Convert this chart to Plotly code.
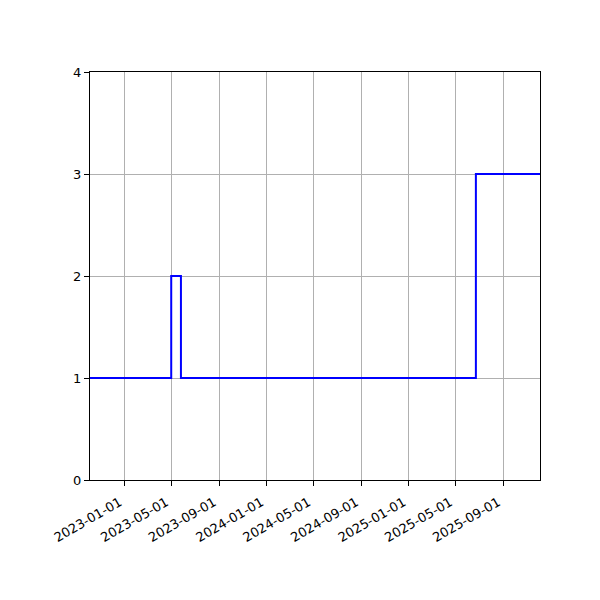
import plotly.graph_objects as go

dates  = ['2022-10-04', '2023-05-01', '2023-05-26', '2025-06-23', '2025-12-05']
counts = [1, 2, 1, 3, 3]
tick_dates = ['2023-01-01', '2023-05-01', '2023-09-01', '2024-01-01', '2024-05-01',
              '2024-09-01', '2025-01-01', '2025-05-01', '2025-09-01']
y_ticks = [0, 1, 2, 3, 4]

fig = go.Figure()
fig.add_trace(go.Scatter(x=dates, y=counts, mode='lines',
                         line=dict(color='blue', width=2, shape='hv'),
                         showlegend=False))

axis_style = dict(showline=True, linecolor='black', linewidth=1, mirror=True,
                  ticks='outside', ticklen=5, tickcolor='black',
                  showgrid=True, gridcolor='#b0b0b0', gridwidth=1,
                  zeroline=False, automargin=False,
                  tickfont=dict(size=13, color='black'))

# page body adds ~8px offset, so margins are shifted to compensate
fig.update_layout(
    width=600, height=600,
    margin=dict(l=82, r=68, t=64, b=128),
    plot_bgcolor='white', paper_bgcolor='white',
    font=dict(family='DejaVu Sans', size=13, color='black'),
    xaxis=dict(range=['2022-10-04', '2025-12-05'], tickvals=tick_dates,
               ticktext=tick_dates, tickangle=-30,
               ticklabelshift=-5, ticklabelstandoff=4, **axis_style),
    yaxis=dict(range=[0, 4], tickvals=y_ticks, **axis_style),
)

fig.write_html('out.html')
